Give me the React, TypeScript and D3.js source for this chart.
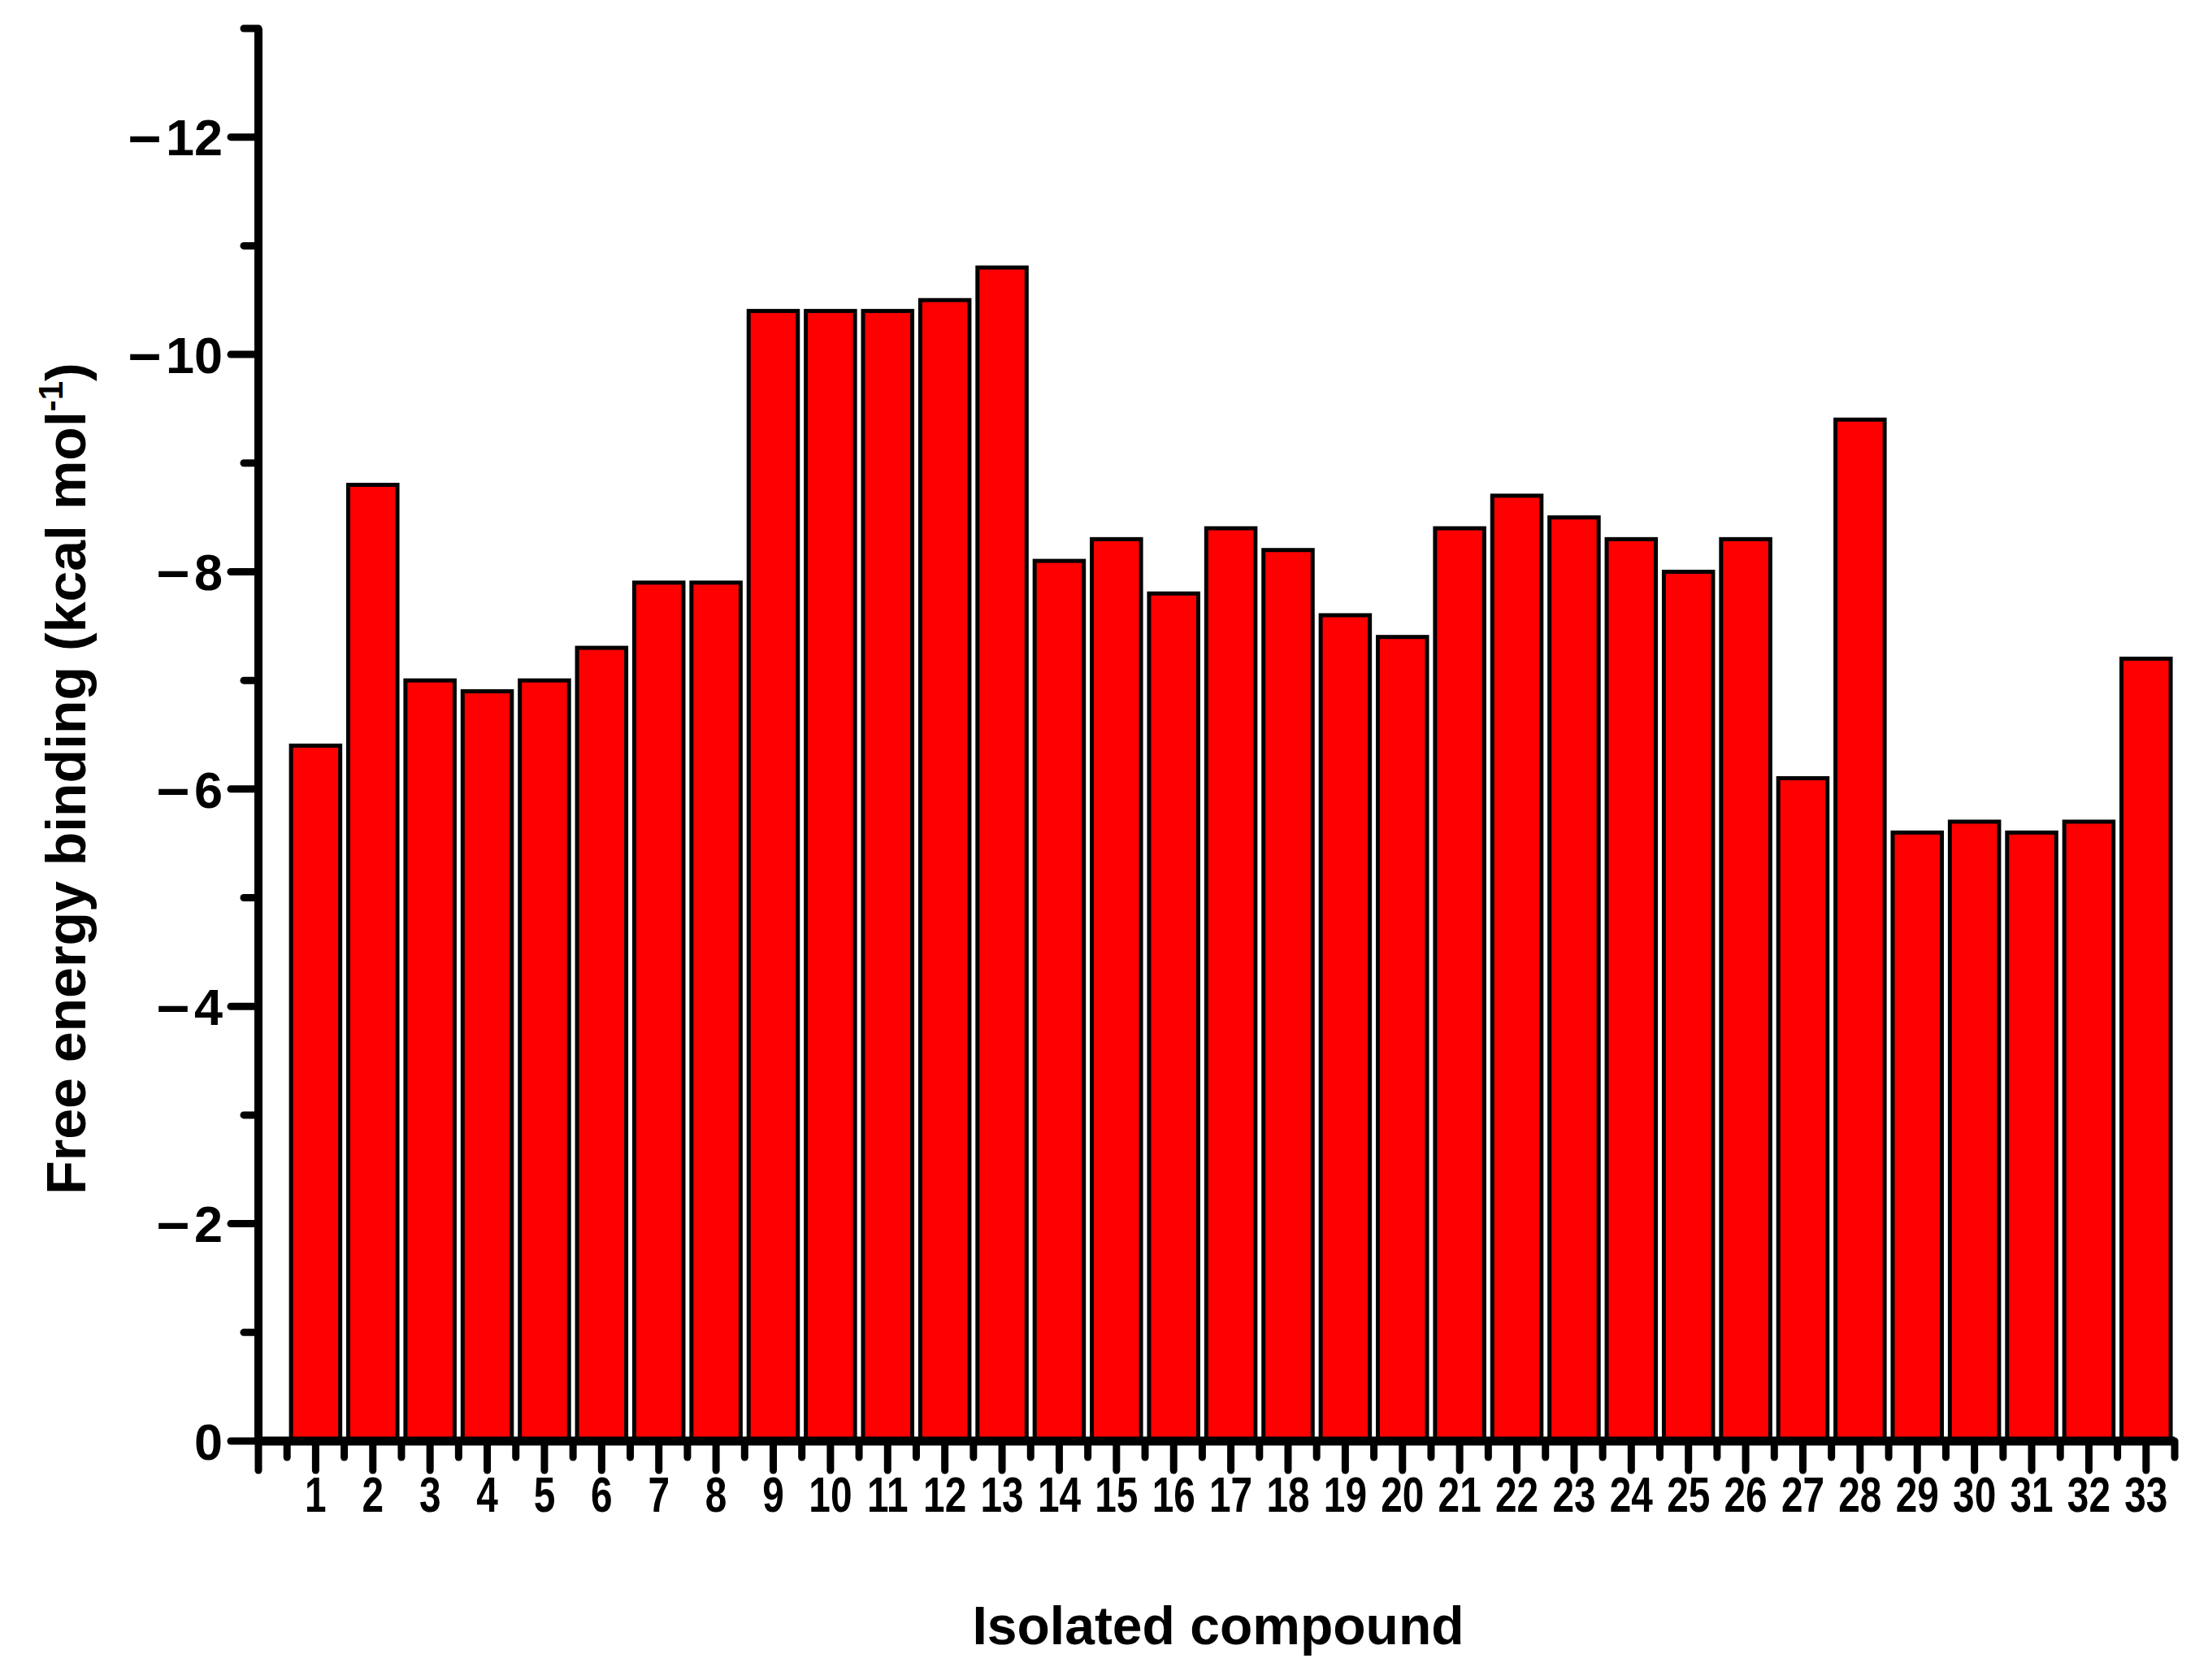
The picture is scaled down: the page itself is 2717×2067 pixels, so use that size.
import React from "react";
import * as d3 from "d3";

const compounds = Array.from({ length: 33 }, (_, i) => String(i + 1));
const energies = [
  -6.4, -8.8, -7.0, -6.9, -7.0, -7.3, -7.9, -7.9, -10.4, -10.4, -10.4, -10.5, -10.8,
  -8.1, -8.3, -7.8, -8.4, -8.2, -7.6, -7.4, -8.4, -8.7, -8.5, -8.3, -8.0, -8.3,
  -6.1, -9.4, -5.6, -5.7, -5.6, -5.7, -7.2,
];
const yMajorTicks = [0, -2, -4, -6, -8, -10, -12];
const yMinorTicks = [-1, -3, -5, -7, -9, -11, -13];

const W = 2717;
const H = 2067;

export default function App() {
  const x = d3.scaleLinear().domain([0, 33.5]).range([318, 2676]);
  const y = d3.scaleLinear().domain([0, -13]).range([1773, 35]);
  const fmt = d3.format("d");
  const barHalf = 0.43;
  const minorX = d3.range(0.5, 34, 1);
  const mainFont = "'Liberation Sans', Arial, sans-serif";
  const y0 = y(0);
  const x0 = x(0);

  return (
    <div>
      <style>{"body{margin:0;background:#fff}"}</style>
      <svg width={W} height={H} style={{ display: "block", background: "#fff" }}>
        {/* bars */}
        <g>
          {energies.map((v, i) => {
            const cx = i + 1;
            const left = x(cx - barHalf);
            const right = x(cx + barHalf);
            return (
              <rect
                key={compounds[i]}
                x={left}
                y={y(v)}
                width={right - left}
                height={y0 - y(v)}
                fill="#ff0000"
                stroke="#000"
                strokeWidth={5}
              />
            );
          })}
        </g>
        {/* y axis */}
        <g stroke="#000" strokeLinecap="round">
          <line x1={x0} x2={x0} y1={y(-13)} y2={y0} strokeWidth={10} strokeLinecap="butt" />
          {yMajorTicks.map((t) => (
            <line key={"ym" + t} x1={x0 - 34} x2={x0} y1={y(t)} y2={y(t)} strokeWidth={9} />
          ))}
          {yMinorTicks.map((t) => (
            <line key={"yn" + t} x1={x0 - 18} x2={x0} y1={y(t)} y2={y(t)} strokeWidth={9} />
          ))}
        </g>
        <g fontFamily={mainFont} fontWeight="bold" fontSize={63} textAnchor="end" fill="#000">
          {yMajorTicks.map((t) => {
            const s = fmt(t);
            const neg = s.startsWith("\u2212");
            return (
              <text key={"yl" + t} x={x0 - 44} y={y(t)} dy="0.36em">
                {neg ? (
                  <>
                    <tspan fontSize={72}>{"\u2013"}</tspan>
                    <tspan dx={6}>{s.slice(1)}</tspan>
                  </>
                ) : (
                  s
                )}
              </text>
            );
          })}
        </g>
        {/* x axis */}
        <g stroke="#000" strokeLinecap="round">
          <line x1={x0 - 4} x2={x(33.5)} y1={y0} y2={y0} strokeWidth={11} strokeLinecap="butt" />
          <line x1={x0} x2={x0} y1={y0} y2={y0 + 36} strokeWidth={9} />
          {compounds.map((c, i) => (
            <line key={"xm" + c} x1={x(i + 1)} x2={x(i + 1)} y1={y0} y2={y0 + 36} strokeWidth={9} />
          ))}
          {minorX.map((t) => (
            <line key={"xn" + t} x1={x(t)} x2={x(t)} y1={y0} y2={y0 + 20} strokeWidth={9} />
          ))}
        </g>
        <g fontFamily={mainFont} fontWeight="bold" fontSize={62} textAnchor="middle" fill="#000">
          {compounds.map((c, i) => (
            <text key={"xl" + c} transform={`translate(${x(i + 1)},1860) scale(0.77,1)`}>
              {c}
            </text>
          ))}
        </g>
        {/* axis titles */}
        <text
          x={1499}
          y={2023}
          textAnchor="middle"
          fontFamily={mainFont}
          fontWeight="bold"
          fontSize={66}
          fill="#000"
        >
          Isolated compound
        </text>
        <text
          transform="translate(105,958) rotate(-90)"
          textAnchor="middle"
          fontFamily={mainFont}
          fontWeight="bold"
          fontSize={68}
          fill="#000"
        >
          Free energy binding (kcal mol
          <tspan fontSize={42} dy={-28}>-1</tspan>
          <tspan dy={28}>)</tspan>
        </text>
      </svg>
    </div>
  );
}
